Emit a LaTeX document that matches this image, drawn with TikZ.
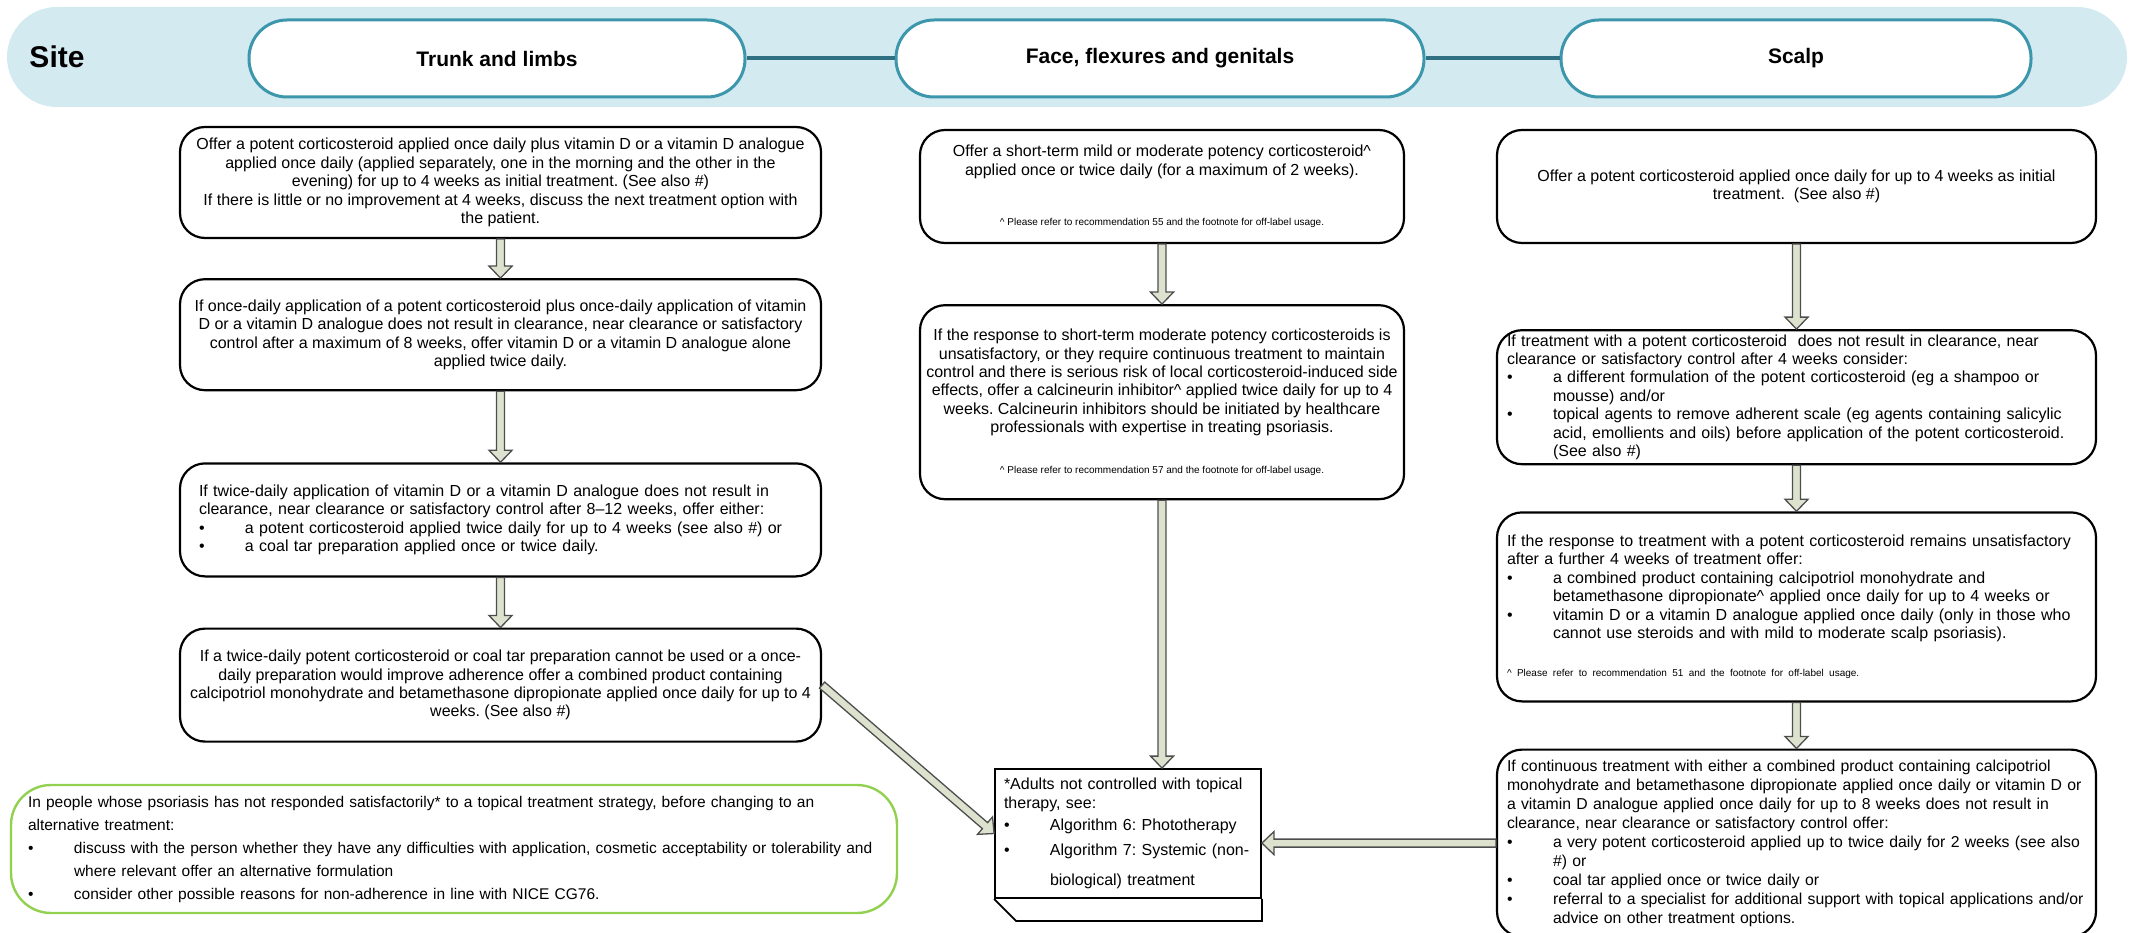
\documentclass[tikz,border=0pt]{standalone}
\usepackage{fontspec}
\setmainfont{Liberation Sans}
\usetikzlibrary{calc,positioning}
\frenchspacing
\definecolor{bandblue}{RGB}{210,234,240}
\definecolor{pillteal}{RGB}{60,150,172}
\definecolor{linkteal}{RGB}{47,112,130}
\definecolor{arrowfill}{RGB}{221,226,207}
\definecolor{arrowedge}{RGB}{77,77,77}
\definecolor{notegreen}{RGB}{146,208,80}
\newcommand{\bodysize}{\fontsize{16}{18.4}\selectfont}
\newcommand{\notesize}{\fontsize{10}{12}\selectfont}
\newcommand{\sbul}{\makebox[46pt][l]{\textbullet}}
\newcommand{\sind}{\hspace*{46pt}}
\newcommand{\shaftw}{4pt}
\newcommand{\headw}{11.5pt}
\newcommand{\headlen}{12pt}
% block arrow from one anchor to another
\newcommand{\blkarrow}[2]{%
  \draw[blkarrow] let \p1=(#1), \p2=(#2),
      \n1={atan2(\y2-\y1,\x2-\x1)}, \n2={veclen(\x2-\x1,\y2-\y1)-\headlen} in
    ($(\p1)+(\n1+90:\shaftw)$) -- ($(\p1)+(\n1:\n2)+(\n1+90:\shaftw)$)
    -- ($(\p1)+(\n1:\n2)+(\n1+90:\headw)$) -- (\p2)
    -- ($(\p1)+(\n1:\n2)+(\n1-90:\headw)$) -- ($(\p1)+(\n1:\n2)+(\n1-90:\shaftw)$)
    -- ($(\p1)+(\n1-90:\shaftw)$) -- cycle;}
\tikzset{
  siteband/.style={
    fill=bandblue,
    rounded corners=50pt,
    minimum width=2120pt,
    minimum height=100pt,
    inner sep=0pt
  },
  sitepill/.style={
    draw=pillteal,
    line width=3pt,
    fill=white,
    rounded corners=38pt,
    minimum height=77pt,
    inner sep=0pt,
    font=\bfseries\fontsize{21}{24}\selectfont
  },
  sitelink/.style={
    draw=linkteal,
    line width=4pt
  },
  stepbox/.style={
    draw=black,
    line width=2.2pt,
    fill=white,
    rounded corners=25pt,
    align=center,
    inner sep=0pt,
    font=\bodysize
  },
  listbox/.style={
    stepbox,
    align=left
  },
  notebox/.style={
    draw=notegreen,
    line width=2.4pt,
    fill=white,
    rounded corners=40pt,
    align=left,
    inner ysep=0pt,
    font=\fontsize{15.5}{23}\selectfont
  },
  algbox/.style={
    draw=black,
    line width=1.8pt,
    fill=white,
    align=left,
    inner ysep=0pt,
    font=\bodysize
  },
  algedge/.style={
    draw=black,
    line width=1.8pt
  },
  blkarrow/.style={
    draw=arrowedge,
    fill=arrowfill,
    line width=1.3pt,
    line join=miter
  }
}

\begin{document}
\begin{tikzpicture}[x=1pt,y=-1pt]
\useasboundingbox (0,0) rectangle (2136,933);
% header
\node[siteband] (band) at (1067,57) {};
\node[font=\bfseries\fontsize{30}{32}\selectfont] (site) at (57,57) {Site};
\node[sitepill,minimum width=496pt] (trunk) at (497,58.5) {Trunk and limbs};
\node[sitepill,minimum width=528pt] (face) at (1160,58.5) {Face, flexures and genitals};
\node[sitepill,minimum width=470pt] (scalp) at (1796,58.5) {Scalp};
\draw[sitelink] (trunk) -- (face);
\draw[sitelink] (face) -- (scalp);

% trunk and limbs
\node[stepbox,minimum width=641pt,minimum height=111pt] (tl1) at (500.5,182.5) {Offer a potent corticosteroid applied once daily plus vitamin D or a vitamin D analogue\\applied once daily (applied separately, one in the morning and the other in the\\evening) for up to 4 weeks as initial treatment. (See also \#)\\If there is little or no improvement at 4 weeks, discuss the next treatment option with\\the patient.};
\node[stepbox,minimum width=641pt,minimum height=111pt,below=39pt of tl1] (tl2) {If once-daily application of a potent corticosteroid plus once-daily application of vitamin\\D or a vitamin D analogue does not result in clearance, near clearance or satisfactory\\control after a maximum of 8 weeks, offer vitamin D or a vitamin D analogue alone\\applied twice daily.};
\node[listbox,text width=603pt,inner xsep=19pt,minimum height=113pt,below=71pt of tl2] (tl3) {If twice-daily application of vitamin D or a vitamin D analogue does not result in\\clearance, near clearance or satisfactory control after 8–12 weeks, offer either:\\\sbul a potent corticosteroid applied twice daily for up to 4 weeks (see also \#) or\\\sbul a coal tar preparation applied once or twice daily.};
\node[stepbox,minimum width=641pt,minimum height=113pt,below=50pt of tl3] (tl4) {If a twice-daily potent corticosteroid or coal tar preparation cannot be used or a once-\\daily preparation would improve adherence offer a combined product containing\\calcipotriol monohydrate and betamethasone dipropionate applied once daily for up to 4\\weeks. (See also \#)};

% face, flexures and genitals
\node[stepbox,minimum width=484pt,minimum height=113pt] (ff1) at (1162,186.5) {Offer a short-term mild or moderate potency corticosteroid\textasciicircum\\applied once or twice daily (for a maximum of 2 weeks).\\[32pt]{\notesize\textasciicircum{} Please refer to recommendation 55 and the footnote for off-label usage.}};
\node[stepbox,minimum width=484pt,minimum height=194pt,below=60pt of ff1] (ff2) {If the response to short-term moderate potency corticosteroids is\\unsatisfactory, or they require continuous treatment to maintain\\control and there is serious risk of local corticosteroid-induced side\\effects, offer a calcineurin inhibitor\textasciicircum{} applied twice daily for up to 4\\weeks. Calcineurin inhibitors should be initiated by healthcare\\professionals with expertise in treating psoriasis.\\[22pt]{\notesize\textasciicircum{} Please refer to recommendation 57 and the footnote for off-label usage.}};

% scalp
\node[stepbox,minimum width=599pt,minimum height=113pt] (sc1) at (1796.5,186.5) {Offer a potent corticosteroid applied once daily for up to 4 weeks as initial\\treatment.\ \ (See also \#)};
\node[listbox,text width=579pt,inner xsep=10pt,minimum height=134pt,below=85pt of sc1] (sc2) {If treatment with a potent corticosteroid\ \ does not result in clearance, near\\clearance or satisfactory control after 4 weeks consider:\\\sbul a different formulation of the potent corticosteroid (eg a shampoo or\\\sind mousse) and/or\\\sbul topical agents to remove adherent scale (eg agents containing salicylic\\\sind acid, emollients and oils) before application of the potent corticosteroid.\\\sind (See also \#)};
\node[listbox,text width=579pt,inner xsep=10pt,minimum height=189pt,below=46pt of sc2] (sc3) {If the response to treatment with a potent corticosteroid remains unsatisfactory\\after a further 4 weeks of treatment offer:\\\sbul a combined product containing calcipotriol monohydrate and\\\sind betamethasone dipropionate\textasciicircum{} applied once daily for up to 4 weeks or\\\sbul vitamin D or a vitamin D analogue applied once daily (only in those who\\\sind cannot use steroids and with mild to moderate scalp psoriasis).\\[20pt]{\notesize\textasciicircum{} Please refer to recommendation 51 and the footnote for off-label usage.}};
\node[listbox,text width=579pt,inner xsep=10pt,minimum height=187pt,below=46pt of sc3,font=\fontsize{15.8}{19}\selectfont] (sc4) {If continuous treatment with either a combined product containing calcipotriol\\monohydrate and betamethasone dipropionate applied once daily or vitamin D or\\a vitamin D analogue applied once daily for up to 8 weeks does not result in\\clearance, near clearance or satisfactory control offer:\\\sbul a very potent corticosteroid applied up to twice daily for 2 weeks (see also\\\sind \#) or\\\sbul coal tar applied once or twice daily or\\\sbul referral to a specialist for additional support with topical applications and/or\\\sind advice on other treatment options.};

% outcome and adherence note
\node[algbox,text width=248pt,inner xsep=9pt,minimum height=129pt] (alg) at (1128,833.5) {*Adults not controlled with topical\\therapy, see:\\[4pt]\sbul Algorithm 6: Phototherapy\\[6pt]\sbul Algorithm 7: Systemic (non-\\[12pt]\sind biological) treatment};
\draw[algedge] (alg.south west) -- ++(22,22) -| (alg.south east);
\node[notebox,text width=852pt,inner xsep=17pt,minimum height=128pt] (adherence) at (454,849) {In people whose psoriasis has not responded satisfactorily* to a topical treatment strategy, before changing to an\\alternative treatment:\\\sbul discuss with the person whether they have any difficulties with application, cosmetic acceptability or tolerability and\\\sind where relevant offer an alternative formulation\\\sbul consider other possible reasons for non-adherence in line with NICE CG76.};

% arrows
\blkarrow{tl1.south}{tl2.north}
\blkarrow{tl2.south}{tl3.north}
\blkarrow{tl3.south}{tl4.north}
\blkarrow{ff1.south}{ff2.north}
\blkarrow{sc1.south}{sc2.north}
\blkarrow{sc2.south}{sc3.north}
\blkarrow{sc3.south}{sc4.north}
\blkarrow{ff2.south}{ff2.south |- alg.north}
\blkarrow{tl4.east}{alg.west}
\blkarrow{sc4.west}{sc4.west -| alg.east}
\end{tikzpicture}
\end{document}
